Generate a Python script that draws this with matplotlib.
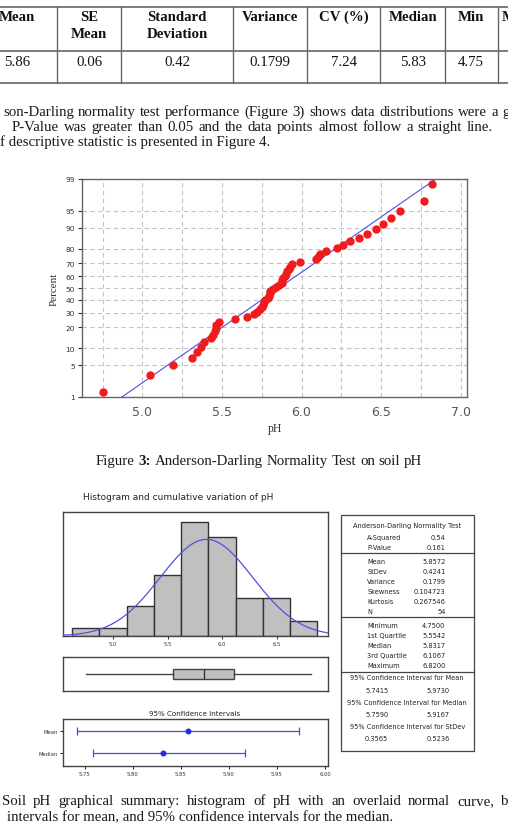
import math
from statistics import NormalDist
import numpy as np
import matplotlib
matplotlib.use("Agg")
import matplotlib.pyplot as plt
from matplotlib.patches import Rectangle

W, H = 508, 837

# ------------------------------------------------------------------ data
table_headers = [["Mean"], ["SE", "Mean"], ["Standard", "Deviation"], ["Variance"],
                 ["CV (%)"], ["Median"], ["Min"], ["M"]]
table_values = ["5.86", "0.06", "0.42", "0.1799", "7.24", "5.83", "4.75", ""]

ph = [4.75, 5.05, 5.19, 5.31, 5.345, 5.37, 5.385, 5.43, 5.445, 5.455, 5.46, 5.465,
      5.483, 5.58, 5.66, 5.70, 5.72, 5.737, 5.752, 5.758, 5.762, 5.77, 5.79, 5.794,
      5.80, 5.804, 5.8217, 5.8417, 5.86, 5.876, 5.88, 5.886, 5.893, 5.90, 5.91, 5.92,
      5.93, 5.94, 5.99, 6.09, 6.104, 6.115, 6.156, 6.223, 6.261, 6.307, 6.36, 6.412,
      6.47, 6.514, 6.56, 6.617, 6.77, 6.82]

hist_bins = [4.625, 4.875, 5.125, 5.375, 5.625, 5.875, 6.125, 6.375, 6.625, 6.875]
pct_ticks = [1, 5, 10, 20, 30, 40, 50, 60, 70, 80, 90, 95, 99]
prob_xticks = [5.0, 5.5, 6.0, 6.5, 7.0]
hist_xticks = [5.0, 5.5, 6.0, 6.5]
ci_xticks = [5.75, 5.80, 5.85, 5.90, 5.95, 6.00]

fit_mean, fit_sd, n_obs = 5.8572, 0.4241, 54

ad_rows_1 = [("A-Squared", "0.54"), ("P-Value", "0.161")]
ad_rows_2 = [("Mean", "5.8572"), ("StDev", "0.4241"), ("Variance", "0.1799"),
             ("Skewness", "0.104723"), ("Kurtosis", "0.267546"), ("N", "54")]
ad_rows_3 = [("Minimum", "4.7500"), ("1st Quartile", "5.5542"), ("Median", "5.8317"),
             ("3rd Quartile", "6.1067"), ("Maximum", "6.8200")]
ci_sections = [("95% Confidence Interval for Mean", "5.7415", "5.9730"),
               ("95% Confidence Interval for Median", "5.7590", "5.9167"),
               ("95% Confidence Interval for StDev", "0.3565", "0.5236")]

ci_labels = ["Mean", "Median"]
ci_center = [5.8572, 5.8317]
ci_low = [5.7415, 5.7590]
ci_high = [5.9730, 5.9167]

box_q1, box_med, box_q3, box_min, box_max = 5.5542, 5.8317, 6.1067, 4.75, 6.82

para_lines = [
    "son-Darling normality test performance (Figure 3) shows data distributions were a g",
    "P-Value was greater than 0.05 and the data points almost follow a straight line.",
    "f descriptive statistic is presented in Figure 4.",
]
cap3 = [("Figure", "normal"), ("3:", "bold"), ("Anderson-Darling", "normal"),
        ("Normality", "normal"), ("Test", "normal"), ("on", "normal"),
        ("soil", "normal"), ("pH", "normal")]
cap4_lines = [
    "Soil pH graphical summary: histogram of pH with an overlaid normal curve, b",
    "intervals for mean, and 95% confidence intervals for the median.",
]

# ------------------------------------------------------------------ figure
fig = plt.figure(figsize=(W / 100, H / 100), dpi=100)
fig.patch.set_facecolor("white")
page = fig.add_axes([0, 0, 1, 1])
page.set_xlim(0, W)
page.set_ylim(H, 0)
page.axis("off")
renderer = fig.canvas.get_renderer()

SERIF = "Liberation Serif"
BODY = 10.7


def text_width(s, **kw):
    t = page.text(0, 0, s, **kw)
    w = t.get_window_extent(renderer=renderer).width
    t.remove()
    return w


def place_words(words, x0, y, x_last=None, gap=None, weights=None, **kw):
    weights = weights or ["normal"] * len(words)
    widths = [text_width(w, weight=wt, **kw) for w, wt in zip(words, weights)]
    if x_last is not None:
        gap = (x_last - x0 - sum(widths[:-1])) / (len(words) - 1)
    x = x0
    for w, wt, wd in zip(words, weights, widths):
        page.text(x, y, w, ha="left", va="baseline", weight=wt, **kw)
        x += wd + gap


def px_axes(x0, y0, x1, y1):
    return fig.add_axes([x0 / W, 1 - y1 / H, (x1 - x0) / W, (y1 - y0) / H])


# ---------------- table
tcol = "#666666"
for yy in (8, 52, 84):
    page.plot([0, W], [yy, yy], color=tcol, lw=1.2, solid_capstyle="butt")
for xx in (57, 121, 233, 307, 380, 445, 498):
    page.plot([xx, xx], [8, 84], color=tcol, lw=1.0)
col_centers = [17, 89, 177, 270, 344, 413, 471, 508.5]
for cx, hdr, val in zip(col_centers, table_headers, table_values):
    for k, line in enumerate(hdr):
        page.text(cx, 21 + 17 * k, line, ha="center", va="baseline",
                  family=SERIF, weight="bold", size=BODY, color="#111111")
    if val:
        page.text(cx, 65.5, val, ha="center", va="baseline", family=SERIF,
                  size=BODY, color="#111111")

# ---------------- paragraph
kw_body = dict(family=SERIF, size=BODY, color="#1a1a1a")
w1 = para_lines[0].split()
place_words(w1, 3, 115.5, x_last=502, **kw_body)
w2 = para_lines[1].split()
place_words(w2, 12, 130.5, x_last=467, **kw_body)
sp = 0.25 * BODY * 100 / 72
page.text(0.5, 145.5, para_lines[2], ha="left", va="baseline", **kw_body)

# ---------------- probability plot
nd = NormalDist()
_ppf = np.vectorize(lambda p: nd.inv_cdf(p), otypes=[float])
_cdf = np.vectorize(lambda z: 0.5 * (1 + math.erf(z / math.sqrt(2))), otypes=[float])


def fwd(p):
    p = np.clip(np.asarray(p, float) / 100.0, 1e-9, 1 - 1e-9)
    return _ppf(p)


def inv(z):
    return 100.0 * _cdf(np.asarray(z, float))


axp = px_axes(82, 180, 467, 398)
axp.set_yscale("function", functions=(fwd, inv))
xs = np.sort(np.array(ph))
ranks = np.arange(1, len(xs) + 1)
pct = (ranks - 0.3) / (len(xs) + 0.4) * 100
axp.set_xlim(4.62, 7.04)
axp.set_ylim(1, 99)
axp.set_xticks(np.arange(4.75, 7.01, 0.25), minor=True)
axp.set_xticks(prob_xticks)
axp.set_xticklabels([f"{v:.1f}" for v in prob_xticks])
axp.set_yticks(pct_ticks)
axp.set_yticklabels([str(v) for v in pct_ticks])
axp.yaxis.set_minor_locator(matplotlib.ticker.NullLocator())
axp.grid(True, which="both", color="#c4c4c4", lw=0.8, ls=(0, (4, 3)))
axp.set_axisbelow(True)
z_lo, z_hi = nd.inv_cdf(0.01), nd.inv_cdf(0.99)
axp.plot([fit_mean + fit_sd * z_lo, fit_mean + fit_sd * z_hi], [1, 99],
         color="#5050e0", lw=0.8, zorder=3)
axp.plot(xs, pct, "o", color="#ee1c1c", ms=5.0, mec="#ee1c1c", zorder=4)
axp.tick_params(axis="x", which="both", length=0, pad=6, labelsize=9, labelcolor="#555555")
axp.tick_params(axis="y", length=3, width=0.8, color="#333333", pad=2,
                labelsize=5.4, labelcolor="#333333")
for s in axp.spines.values():
    s.set_color("#666666")
    s.set_linewidth(1.0)
axp.set_xlabel("pH", family=SERIF, size=8.5, labelpad=3, color="#333333")
axp.set_ylabel("Percent", family=SERIF, size=8, labelpad=5, color="#333333")

# ---------------- caption fig 3
gap = sp
widths = [text_width(w, weight=wt, **kw_body) for w, wt in cap3]
total = sum(widths) + gap * (len(cap3) - 1)
place_words([w for w, _ in cap3], 259 - total / 2, 465, gap=gap,
            weights=[wt for _, wt in cap3], **kw_body)

# ---------------- graphical summary
SANS = "DejaVu Sans"
edge = "#444444"
page.text(83, 500.5, "Histogram and cumulative variation of pH", ha="left",
          va="baseline", family=SANS, size=6.45, color="#222222")

axh = px_axes(63, 513, 328, 637)
xl = (4.541, 6.972)
axh.hist(ph, bins=hist_bins, color="#c0c0c0", edgecolor="#333333", lw=1.0, zorder=2)
xx = np.linspace(xl[0], xl[1], 300)
bw = hist_bins[1] - hist_bins[0]
yy = n_obs * bw * np.exp(-0.5 * ((xx - fit_mean) / fit_sd) ** 2) / (fit_sd * math.sqrt(2 * math.pi))
axh.plot(xx, yy, color="#5050e0", lw=0.9, zorder=3)
axh.set_xlim(*xl)
axh.set_ylim(0, 16.3)
axh.set_yticks([])
axh.set_xticks(hist_xticks)
axh.set_xticklabels([f"{v:.1f}" for v in hist_xticks])
axh.tick_params(axis="x", length=2, width=0.6, pad=1.5, labelsize=3.8, labelcolor="#333333")

axb = px_axes(63, 658, 328, 692)
axb.bxp([dict(q1=box_q1, med=box_med, q3=box_q3, whislo=box_min, whishi=box_max,
              fliers=[])], positions=[0], vert=False, widths=0.64, showcaps=False,
        patch_artist=True,
        boxprops=dict(facecolor="#c0c0c0", edgecolor="#444444", lw=1.0),
        medianprops=dict(color="#333333", lw=1.0),
        whiskerprops=dict(color="#444444", lw=1.0))
axb.set_xlim(*xl)
axb.set_ylim(-1, 1)
axb.set_xticks([])
axb.set_yticks([])

page.text(195, 716, "95% Confidence Intervals", ha="center", va="baseline",
          family=SANS, size=5.1, color="#222222")
axc = px_axes(63, 720, 328, 767)
ypos = [1, 0]
for yv, c, lo, hi in zip(ypos, ci_center, ci_low, ci_high):
    axc.errorbar([c], [yv], xerr=[[c - lo], [hi - c]], fmt="o", color="#2a2ae0",
                 ms=3.3, lw=0.9, capsize=3.2, capthick=0.9, ecolor="#4a4ae6")
axc.set_xlim(5.7274, 6.0031)
axc.set_ylim(-0.55, 1.51)
axc.set_yticks(ypos)
axc.set_yticklabels(ci_labels)
axc.set_xticks(ci_xticks)
axc.set_xticklabels([f"{v:.2f}" for v in ci_xticks])
axc.tick_params(axis="both", length=2, width=0.6, pad=1.5, labelsize=3.8, labelcolor="#333333")

for a in (axh, axb, axc):
    for s in a.spines.values():
        s.set_color(edge)
        s.set_linewidth(1.0)

# ---------------- stats box
SF = 4.75
page.add_patch(Rectangle((341, 516), 132.5, 236, fill=False, ec="#444444", lw=0.9))
for yy_ in (554.3, 618.3, 673.3):
    page.plot([341, 473.5], [yy_, yy_], color="#444444", lw=0.9)
kw_s = dict(family=SANS, size=SF, color="#222222", va="baseline")
page.text(407.3, 528, "Anderson-Darling Normality Test", ha="center", **kw_s)
y = 539.7
for lab, val in ad_rows_1:
    page.text(367.3, y, lab, ha="left", **kw_s)
    page.text(445.5, y, val, ha="right", **kw_s)
    y += 10
y = 564.5
for lab, val in ad_rows_2:
    page.text(367.3, y, lab, ha="left", **kw_s)
    page.text(445.5, y, val, ha="right", **kw_s)
    y += 9.85
y = 628
for lab, val in ad_rows_3:
    page.text(367.3, y, lab, ha="left", **kw_s)
    page.text(445.5, y, val, ha="right", **kw_s)
    y += 9.95
y = 680.3
for title, lo, hi in ci_sections:
    page.text(407.3, y, title, ha="center", **kw_s)
    page.text(376.7, y + 12.4, lo, ha="center", **kw_s)
    page.text(438.3, y + 12.4, hi, ha="center", **kw_s)
    y += 24.4

# ---------------- caption fig 4
place_words(cap4_lines[0].split(), 2, 805, x_last=501, **kw_body)
page.text(7, 821, cap4_lines[1], ha="left", va="baseline", **kw_body)

fig.savefig("out.png", dpi=100, facecolor="white")
